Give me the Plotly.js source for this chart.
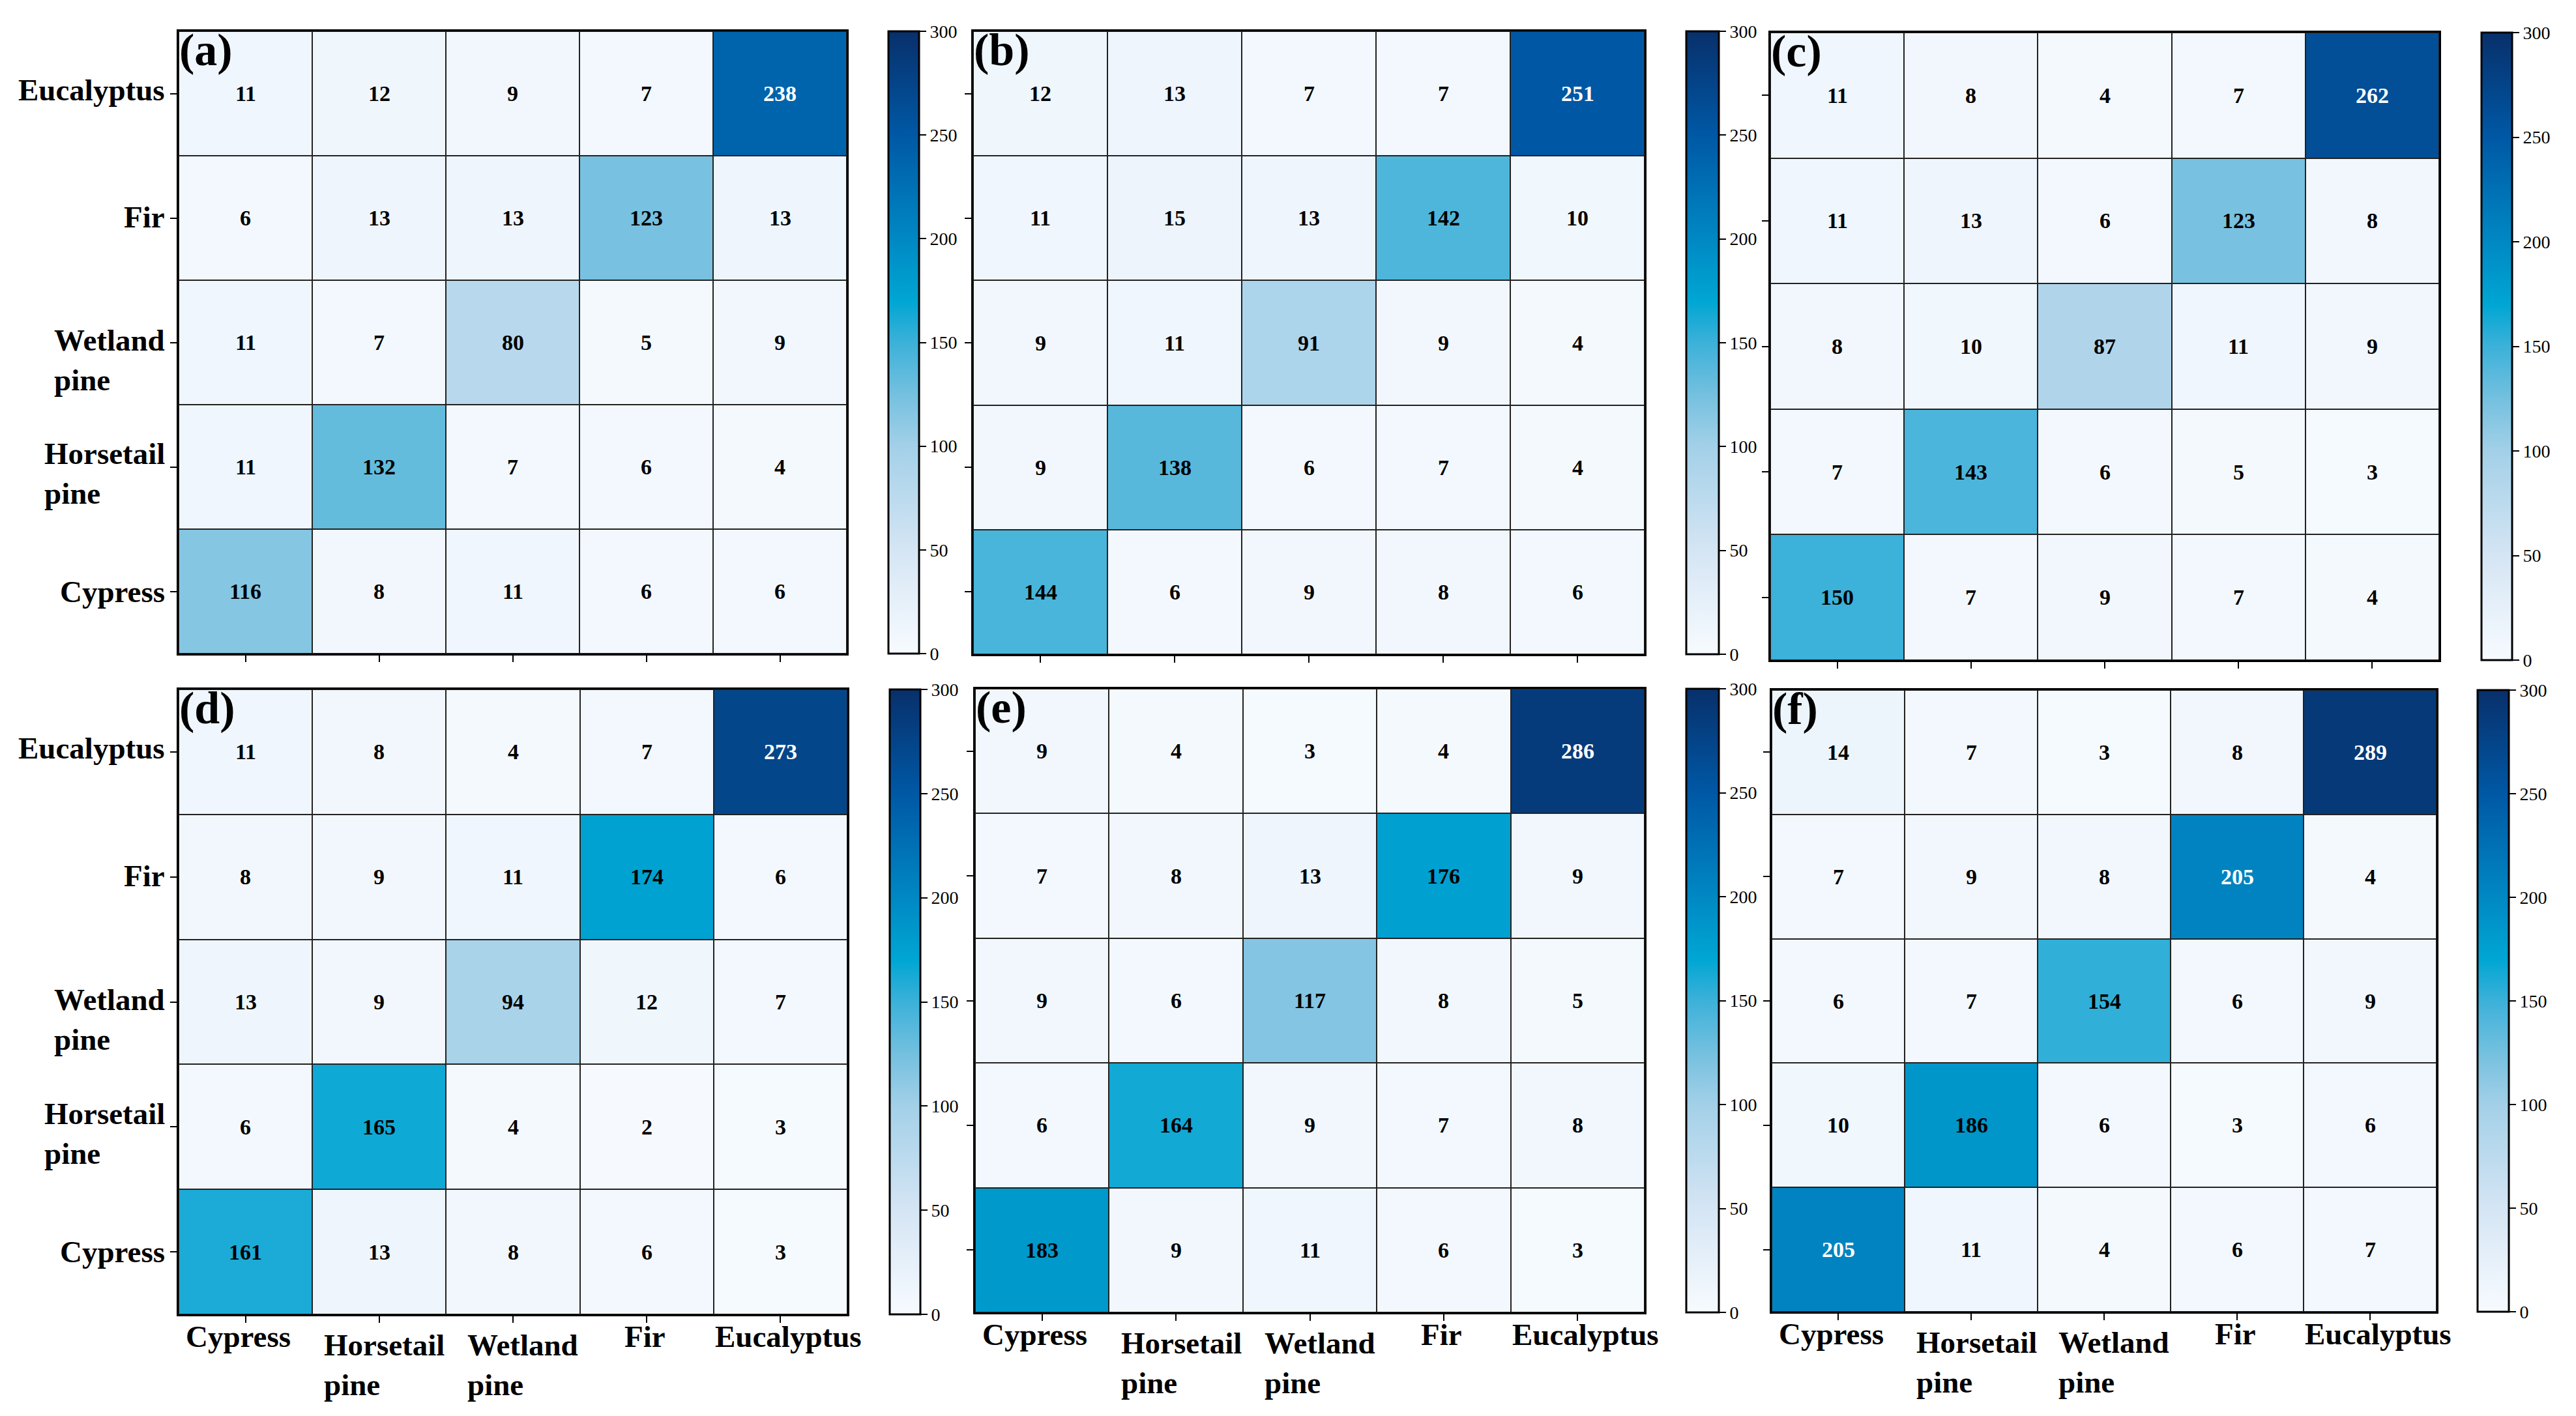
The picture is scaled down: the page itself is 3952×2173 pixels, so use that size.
<!DOCTYPE html>
<html><head><meta charset="utf-8">
<script src="https://cdn.plot.ly/plotly-3.0.1.min.js"></script>
<style>html,body{margin:0;padding:0;background:#fff}</style>
</head><body><div id="chart" style="width:3952px;height:2173px"></div>
<script>
// ---- data ----
const classes = ['Cypress', 'Horsetail pine', 'Wetland pine', 'Fir', 'Eucalyptus'];
const rowsTopToBottom = ['Eucalyptus', 'Fir', 'Wetland pine', 'Horsetail pine', 'Cypress'];
const xTickText = ['Cypress', 'Horsetail<br>pine', 'Wetland<br>pine', 'Fir', 'Eucalyptus'];
const yTickText = ['Eucalyptus', 'Fir', 'Wetland<br>pine', 'Horsetail<br>pine', 'Cypress'];
const panelLabels = ['(a)', '(b)', '(c)', '(d)', '(e)', '(f)'];
const colorTicks = [0, 50, 100, 150, 200, 250, 300];
// rows listed top to bottom (Eucalyptus, Fir, Wetland pine, Horsetail pine, Cypress)
const cmA = [[11,12,9,7,238],[6,13,13,123,13],[11,7,80,5,9],[11,132,7,6,4],[116,8,11,6,6]];
const cmB = [[12,13,7,7,251],[11,15,13,142,10],[9,11,91,9,4],[9,138,6,7,4],[144,6,9,8,6]];
const cmC = [[11,8,4,7,262],[11,13,6,123,8],[8,10,87,11,9],[7,143,6,5,3],[150,7,9,7,4]];
const cmD = [[11,8,4,7,273],[8,9,11,174,6],[13,9,94,12,7],[6,165,4,2,3],[161,13,8,6,3]];
const cmE = [[9,4,3,4,286],[7,8,13,176,9],[9,6,117,8,5],[6,164,9,7,8],[183,9,11,6,3]];
const cmF = [[14,7,3,8,289],[7,9,8,205,4],[6,7,154,6,9],[10,186,6,3,6],[205,11,4,6,7]];
const matrices = [cmA, cmB, cmC, cmD, cmE, cmF];

// ---- styling / layout ----
const W = 3952, H = 2173;
const FONT = 'Liberation Serif, Times New Roman, serif';
const colorscale = [
  [0.0, '#f7fbff'], [0.1667, '#d5e5f4'], [0.3333, '#a3d0e8'], [0.4167, '#74c0df'],
  [0.5, '#3cb1d9'], [0.5667, '#00a6d3'], [0.6667, '#0088c3'], [0.8333, '#0058a5'], [1.0, '#08306b']
];
// panel boxes in pixels: [left, right, top, bottom]
const boxes = [
  [274, 1299, 48, 1003], [1493, 2523, 48, 1004], [2716, 3742, 50, 1013],
  [274, 1300, 1058, 2017], [1496, 2523, 1057, 2014], [2718, 3738, 1059, 2013]
];
// colorbar boxes: [left, width]
const cbars = [[1363, 47], [2587, 50], [3807, 47], [1365, 47], [2587, 50], [3801, 48]];
const yLabelShift = [6, 2, -27, -10, 0];
const xLabelXShift = [-11, 8, 15, -3, 12];
const xLabelYShift = [-6, -19, -19, -6, -6];

const data = [];
const layout = {
  width: W, height: H, margin: {l: 0, r: 0, t: 0, b: 0},
  paper_bgcolor: '#ffffff', plot_bgcolor: '#222222',
  showlegend: false, annotations: [], font: {family: FONT, color: '#000'}
};

matrices.forEach((m, p) => {
  const n = p + 1;
  const xa = n === 1 ? 'x' : 'x' + n, ya = n === 1 ? 'y' : 'y' + n;
  const [l, r, t, b] = boxes[p];
  const [cl, cw] = cbars[p];
  data.push({
    type: 'heatmap', x: classes, y: rowsTopToBottom, z: m,
    xaxis: xa, yaxis: ya, zmin: 0, zmax: 300, colorscale: colorscale,
    xgap: 2, ygap: 2, hoverinfo: 'skip',
    colorbar: {
      x: cl / W, xanchor: 'left', xpad: 0, ypad: 0,
      y: 1 - t / H, yanchor: 'top', len: (b - t) / H, lenmode: 'fraction',
      thickness: cw, thicknessmode: 'pixels',
      outlinewidth: 3, outlinecolor: '#000',
      tickmode: 'array', tickvals: colorTicks, ticktext: colorTicks.map(String),
      ticks: 'outside', ticklen: 10, tickwidth: 2, tickcolor: '#000',
      tickfont: {family: FONT, size: 28, color: '#000'}
    }
  });
  const axCommon = {
    type: 'category', showgrid: false, zeroline: false, showticklabels: false,
    showline: true, linewidth: 3, linecolor: '#000', mirror: true,
    ticks: 'outside', ticklen: 10, tickwidth: 2, tickcolor: '#000', fixedrange: true
  };
  layout[n === 1 ? 'xaxis' : 'xaxis' + n] = Object.assign({}, axCommon, {
    domain: [l / W, r / W], anchor: ya, range: [-0.5, 4.5],
    categoryorder: 'array', categoryarray: classes
  });
  layout[n === 1 ? 'yaxis' : 'yaxis' + n] = Object.assign({}, axCommon, {
    domain: [1 - b / H, 1 - t / H], anchor: xa, range: [4.5, -0.5],
    categoryorder: 'array', categoryarray: rowsTopToBottom
  });
  // cell values
  m.forEach((row, i) => row.forEach((v, j) => {
    layout.annotations.push({
      xref: xa, yref: ya, x: classes[j], y: rowsTopToBottom[i], text: String(v),
      showarrow: false, font: {family: FONT, size: 34, color: v > 200 ? '#ffffff' : '#000000', weight: 'bold'}
    });
  }));
  // panel label
  layout.annotations.push({
    xref: xa + ' domain', yref: ya + ' domain', x: 0, y: 1, xanchor: 'left', yanchor: 'top',
    xshift: -1, yshift: 12, text: '<b>' + panelLabels[p] + '</b>', showarrow: false,
    font: {family: FONT, size: 70, color: '#000'}
  });
  // y labels on left column
  if (p === 0 || p === 3) {
    yTickText.forEach((txt, i) => layout.annotations.push({
      xref: xa + ' domain', yref: ya, x: 0, y: rowsTopToBottom[i], xanchor: 'right', yanchor: 'middle',
      xshift: -19, yshift: yLabelShift[i], align: 'left', text: '<b>' + txt + '</b>', showarrow: false,
      font: {family: FONT, size: 47, color: '#000'}
    }));
  }
  // x labels on bottom row
  if (p >= 3) {
    xTickText.forEach((txt, j) => layout.annotations.push({
      xref: xa, yref: ya + ' domain', x: classes[j], y: 0, xanchor: 'center', yanchor: 'top',
      xshift: xLabelXShift[j], yshift: xLabelYShift[j], align: 'left', text: '<b>' + txt + '</b>', showarrow: false,
      font: {family: FONT, size: 47, color: '#000'}
    }));
  }
});

Plotly.newPlot('chart', data, layout, {staticPlot: true, displayModeBar: false});
</script></body></html>
